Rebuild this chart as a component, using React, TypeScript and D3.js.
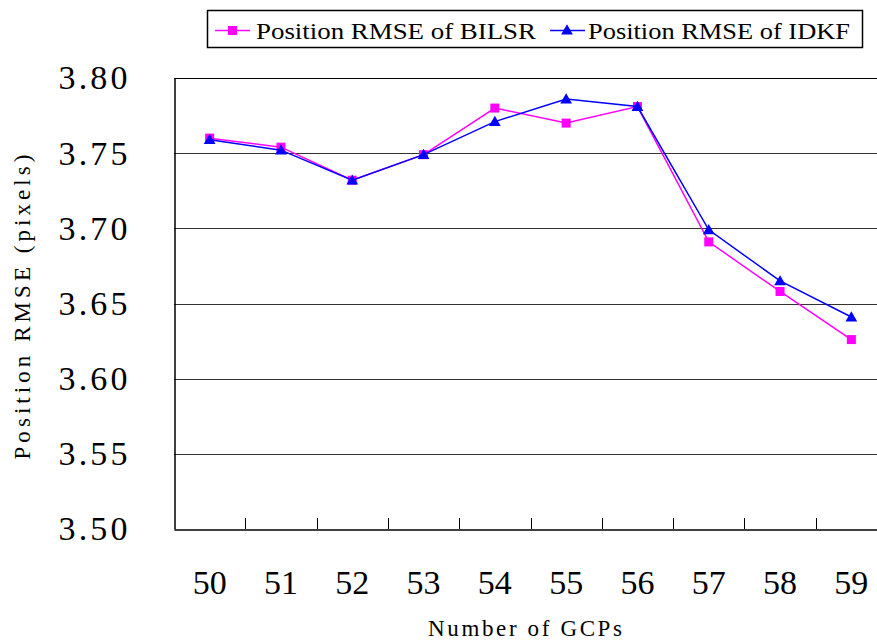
import { useEffect, useRef } from 'react';
import * as d3 from 'd3';

const gcps = ['50', '51', '52', '53', '54', '55', '56', '57', '58', '59'];
const bilsr = [3.76, 3.754, 3.732, 3.749, 3.78, 3.77, 3.781, 3.691, 3.658, 3.626];
const idkf = [3.759, 3.752, 3.732, 3.749, 3.771, 3.786, 3.781, 3.699, 3.665, 3.641];
const yTicks = [3.5, 3.55, 3.6, 3.65, 3.7, 3.75, 3.8];

const FONT = '"Liberation Serif", "DejaVu Serif", serif';

export default function App() {
  const ref = useRef<SVGSVGElement | null>(null);

  useEffect(() => {
    if (!ref.current) return;
    const svg = d3.select(ref.current);
    svg.selectAll('*').remove();

    const width = 877;
    const height = 641;
    const margin = { top: 78, left: 174, bottom: 112 };
    const plotRight = 887;

    const x = d3.scaleBand<string>().domain(gcps).range([margin.left, plotRight]);
    const y = d3.scaleLinear().domain([3.5, 3.8]).range([height - margin.bottom, margin.top]);

    svg.append('rect').attr('width', width).attr('height', height).attr('fill', 'white');

    // grid lines
    svg
      .append('g')
      .selectAll('line')
      .data(yTicks.slice(1, -1))
      .enter()
      .append('line')
      .attr('x1', margin.left)
      .attr('x2', plotRight)
      .attr('y1', (d) => Math.round(y(d)) + 0.5)
      .attr('y2', (d) => Math.round(y(d)) + 0.5)
      .attr('stroke', '#333')
      .attr('stroke-width', 1);

    // top border
    svg
      .append('line')
      .attr('x1', margin.left)
      .attr('x2', plotRight)
      .attr('y1', y(3.8) + 0.5)
      .attr('y2', y(3.8) + 0.5)
      .attr('stroke', '#000');

    // y axis
    const yAxis = svg
      .append('g')
      .attr('transform', `translate(${margin.left + 0.5},0)`)
      .call(d3.axisLeft(y).tickValues(yTicks).tickSize(0).tickPadding(47).tickFormat(d3.format('.2f')));
    yAxis.select('.domain').attr('stroke', '#000').attr('stroke-width', 1.5);
    yAxis
      .selectAll('text')
      .attr('font-family', FONT)
      .attr('font-size', 34)
      .attr('fill', '#000')
      .attr('textLength', 69)
      .attr('lengthAdjust', 'spacing');

    // x axis
    const xAxis = svg
      .append('g')
      .attr('transform', `translate(0,${y(3.5) + 0.5})`)
      .call(d3.axisBottom(x).tickSize(0).tickPadding(40));
    xAxis.select('.domain').attr('stroke', '#000').attr('stroke-width', 1.5);
    xAxis.selectAll('text').attr('font-family', FONT).attr('font-size', 34).attr('fill', '#000');

    // inner tick marks between categories
    svg
      .append('g')
      .selectAll('line')
      .data(gcps.slice(1))
      .enter()
      .append('line')
      .attr('x1', (d) => Math.round(x(d) as number) + 0.5)
      .attr('x2', (d) => Math.round(x(d) as number) + 0.5)
      .attr('y1', y(3.5))
      .attr('y2', y(3.5) - 11)
      .attr('stroke', '#000');

    // axis titles
    svg
      .append('text')
      .attr('x', 525)
      .attr('y', 636)
      .attr('text-anchor', 'middle')
      .attr('font-family', FONT)
      .attr('font-size', 23)
      .attr('textLength', 194)
      .attr('lengthAdjust', 'spacing')
      .text('Number of GCPs');

    svg
      .append('text')
      .attr('transform', 'translate(30,307) rotate(-90)')
      .attr('text-anchor', 'middle')
      .attr('font-family', FONT)
      .attr('font-size', 23)
      .attr('textLength', 305)
      .attr('lengthAdjust', 'spacing')
      .text('Position RMSE (pixels)');

    const cx = (i: number) => (x(gcps[i]) as number) + x.bandwidth() / 2;
    const line = d3
      .line<number>()
      .x((_, i) => cx(i))
      .y((d) => y(d));

    // BILSR
    svg
      .append('path')
      .datum(bilsr)
      .attr('fill', 'none')
      .attr('stroke', '#ff00ff')
      .attr('stroke-width', 1.5)
      .attr('d', line);
    svg
      .append('g')
      .selectAll('rect')
      .data(bilsr)
      .enter()
      .append('rect')
      .attr('x', (_, i) => cx(i) - 4.5)
      .attr('y', (d) => y(d) - 4.5)
      .attr('width', 9)
      .attr('height', 9)
      .attr('fill', '#ff00ff');

    // IDKF
    svg
      .append('path')
      .datum(idkf)
      .attr('fill', 'none')
      .attr('stroke', '#0000ff')
      .attr('stroke-width', 1.5)
      .attr('d', line);
    const tri = d3.symbol().type(d3.symbolTriangle).size(60);
    svg
      .append('g')
      .selectAll('path')
      .data(idkf)
      .enter()
      .append('path')
      .attr('transform', (d, i) => `translate(${cx(i)},${y(d) + 1})`)
      .attr('d', tri)
      .attr('fill', '#0000ff');

    // legend
    const legend = svg.append('g');
    legend
      .append('rect')
      .attr('x', 207.5)
      .attr('y', 10.5)
      .attr('width', 655)
      .attr('height', 37)
      .attr('fill', 'white')
      .attr('stroke', '#000')
      .attr('stroke-width', 1.5);

    const items = [
      { label: 'Position RMSE of BILSR', color: '#ff00ff', lx: 215, tx: 256, tw: 280, square: true },
      { label: 'Position RMSE of IDKF', color: '#0000ff', lx: 550, tx: 588, tw: 262, square: false }
    ];
    items.forEach((it) => {
      legend
        .append('line')
        .attr('x1', it.lx)
        .attr('x2', it.lx + 35)
        .attr('y1', 30.5)
        .attr('y2', 30.5)
        .attr('stroke', it.color)
        .attr('stroke-width', 1.5);
      if (it.square) {
        legend
          .append('rect')
          .attr('x', it.lx + 17.5 - 4.5)
          .attr('y', 26)
          .attr('width', 9)
          .attr('height', 9)
          .attr('fill', it.color);
      } else {
        legend
          .append('path')
          .attr('transform', `translate(${it.lx + 17},${31})`)
          .attr('d', tri)
          .attr('fill', it.color);
      }
      legend
        .append('text')
        .attr('x', it.tx)
        .attr('y', 39)
        .attr('font-family', FONT)
        .attr('font-size', 24)
        .attr('textLength', it.tw)
        .attr('lengthAdjust', 'spacingAndGlyphs')
        .text(it.label);
    });
  }, []);

  return (
    <svg
      ref={ref}
      width={877}
      height={641}
      style={{ position: 'absolute', left: 0, top: 0, display: 'block' }}
    />
  );
}
